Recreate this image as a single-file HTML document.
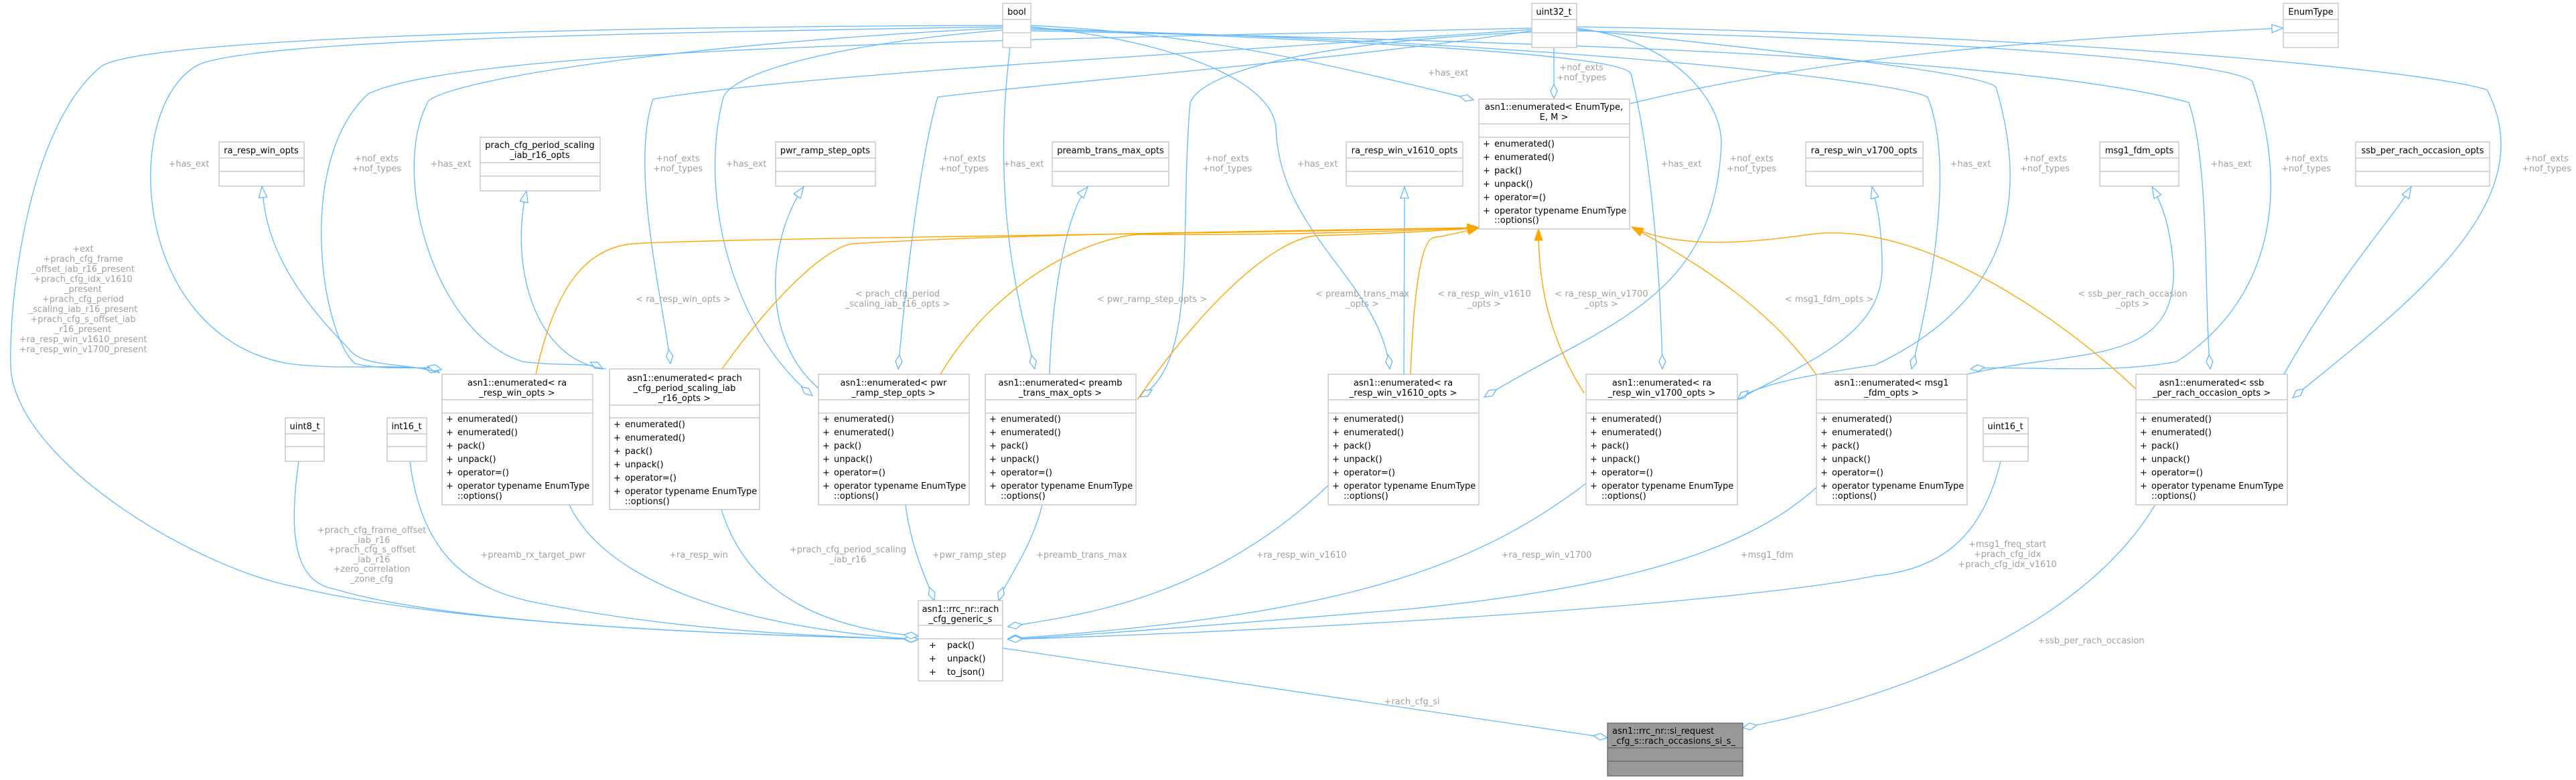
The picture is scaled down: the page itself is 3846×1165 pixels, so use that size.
<!DOCTYPE html>
<html><head><meta charset="utf-8"><style>
html,body{margin:0;padding:0;background:#fff;}
svg{display:block;}
text{font-family:"DejaVu Sans","Liberation Sans",sans-serif;font-size:13px;fill:#000;}
.l text{fill:#a0a0a0;font-size:13px;}
.b{fill:none;stroke:#63b8ff;stroke-width:1.3;}
.o{fill:none;stroke:#ffa500;stroke-width:1.4;}
.bx{fill:#fff;stroke:#bfbfbf;stroke-width:1.3;}
.sp{stroke:#bfbfbf;stroke-width:1.3;}
</style></head><body>
<svg width="3846" height="1165" viewBox="0 0 3846 1165" xmlns="http://www.w3.org/2000/svg">
<defs>
<marker id="dia" markerUnits="userSpaceOnUse" markerWidth="24" markerHeight="12" refX="22" refY="6" orient="auto"><path d="M1,6 L11,1 L22,6 L11,11 Z" fill="#fff" stroke="#63b8ff" stroke-width="1.3"/></marker>
<marker id="tri" markerUnits="userSpaceOnUse" markerWidth="20" markerHeight="14" refX="18" refY="7" orient="auto"><path d="M1,1 L18,7 L1,13 Z" fill="#fff" stroke="#63b8ff" stroke-width="1.3"/></marker>
<marker id="arr" markerUnits="userSpaceOnUse" markerWidth="20" markerHeight="14" refX="18" refY="7" orient="auto"><path d="M1,1 L18,7 L1,13 Z" fill="#ffa500" stroke="#ffa500" stroke-width="1"/></marker>
</defs>

<g class="b" marker-end="url(#dia)">
<path d="M1497,40 C900,50 400,60 300,95 C180,150 190,500 430,543 C520,555 600,540 655,555"/>
<path d="M2287,42 C1500,60 700,70 550,140 C440,240 480,500 530,543 C580,555 630,545 659,552"/>
<path d="M1497,42 C1100,60 700,110 640,150 C580,260 650,500 780,540 C840,548 880,540 900,551"/>
<path d="M2287,44 C1800,80 1200,110 975,148 C940,250 990,450 1001,543"/>
<path d="M1497,45 C1300,60 1100,100 1080,145 C1040,300 1100,500 1213,591"/>
<path d="M2287,46 C2000,90 1600,120 1400,145 C1370,250 1350,450 1341,551"/>
<path d="M1508,71 C1480,300 1520,450 1545,551"/>
<path d="M2287,48 C2000,60 1800,100 1777,153 C1760,350 1790,540 1702,593"/>
<path d="M1539,38 C1800,50 2000,100 2200,149"/>
<path d="M2320,71 L2320,147"/>
<path d="M1539,40 C1750,60 1900,120 1905,191 C1910,350 2060,420 2075,551"/>
<path d="M2354,42 C2500,60 2570,150 2570,214 C2560,450 2400,480 2216,593"/>
<path d="M1539,42 C2000,60 2420,80 2435,110 C2470,250 2480,450 2482,551"/>
<path d="M2354,44 C2700,80 2960,110 2980,130 C3030,300 3000,450 2800,545 C2700,560 2620,575 2594,597"/>
<path d="M1539,44 C2300,60 2830,120 2878,145 C2920,250 2880,450 2854,551"/>
<path d="M2354,46 C2900,60 3330,90 3363,122 C3420,290 3390,450 3250,540 C3150,560 3000,545 2942,551"/>
<path d="M1539,46 C2200,60 3000,80 3268,153 C3300,250 3290,450 3300,551"/>
<path d="M2354,40 C3000,50 3600,100 3713,134 C3800,300 3600,450 3423,594"/>
<path d="M1497,38 C800,40 200,60 150,100 C30,200 10,500 17,560 C40,700 300,850 439,876 C700,940 1200,950 1371,955"/>
<path d="M446,689 C430,800 440,870 500,880 C700,940 1200,950 1371,955"/>
<path d="M612,689 C630,830 700,880 800,900 C1000,940 1200,950 1371,955"/>
<path d="M850,754 C920,900 1200,945 1371,955"/>
<path d="M1077,761 C1120,900 1250,940 1371,950"/>
<path d="M1352,754 C1360,820 1385,870 1395,897"/>
<path d="M1556,754 C1540,820 1500,870 1491,897"/>
<path d="M1983,725 C1800,900 1600,920 1505,936"/>
<path d="M2368,722 C2200,850 2000,920 1505,954"/>
<path d="M2712,728 C2600,830 2400,880 2100,910 C1800,935 1600,950 1505,955"/>
<path d="M2987,689 C2960,800 2900,850 2800,860 C2600,900 2000,940 1505,955"/>
<path d="M1497,968 L2400,1102"/>
<path d="M3217,755 C3100,950 2800,1050 2602,1087"/>
</g>
<g class="b" marker-end="url(#tri)">
<path d="M657,557 C600,540 540,550 520,520 C400,400 395,320 391,278"/>
<path d="M905,551 C800,540 760,400 786,285"/>
<path d="M1222,580 C1130,500 1150,350 1200,279"/>
<path d="M1567,559 C1570,450 1590,320 1624,279"/>
<path d="M2096,559 L2097,279"/>
<path d="M2594,597 C2700,540 2810,500 2810,400 C2810,330 2800,300 2795,279"/>
<path d="M2937,559 C3100,520 3250,550 3245,400 C3240,330 3225,300 3213,279"/>
<path d="M3410,559 C3500,400 3570,330 3600,279"/>
<path d="M2433,155 C2700,90 3000,60 3409,42"/>
</g>
<g class="o" marker-end="url(#arr)">
<path d="M800,559 C830,420 880,370 945,364 C1100,355 1800,350 2208,340"/>
<path d="M1078,551 C1150,450 1230,370 1273,364 C1500,350 1900,345 2208,340"/>
<path d="M1404,559 C1500,400 1650,350 1706,350 C1900,352 2100,345 2208,340"/>
<path d="M1698,597 C1800,450 1900,360 1963,352 C2050,350 2150,345 2208,340"/>
<path d="M2106,559 C2110,450 2120,360 2140,355 C2170,350 2190,345 2208,340"/>
<path d="M2365,587 C2310,500 2297,420 2297,342"/>
<path d="M2712,560 C2650,470 2550,400 2436,339"/>
<path d="M3189,581 C3050,450 2850,330 2703,350 C2600,365 2500,370 2436,339"/>
</g>

<g class="l" text-anchor="middle">
<text x="282" y="249">+has_ext</text>
<text x="562" y="241">+nof_exts</text><text x="562" y="256">+nof_types</text>
<text x="673" y="249">+has_ext</text>
<text x="1012" y="241">+nof_exts</text><text x="1012" y="256">+nof_types</text>
<text x="1114" y="249">+has_ext</text>
<text x="1439" y="241">+nof_exts</text><text x="1439" y="256">+nof_types</text>
<text x="1528" y="249">+has_ext</text>
<text x="1832" y="241">+nof_exts</text><text x="1832" y="256">+nof_types</text>
<text x="1967" y="249">+has_ext</text>
<text x="2162" y="113">+has_ext</text>
<text x="2361" y="105">+nof_exts</text><text x="2361" y="120">+nof_types</text>
<text x="2510" y="249">+has_ext</text>
<text x="2615" y="241">+nof_exts</text><text x="2615" y="256">+nof_types</text>
<text x="2942" y="249">+has_ext</text>
<text x="3053" y="241">+nof_exts</text><text x="3053" y="256">+nof_types</text>
<text x="3331" y="249">+has_ext</text>
<text x="3443" y="241">+nof_exts</text><text x="3443" y="256">+nof_types</text>
<text x="3802" y="241">+nof_exts</text><text x="3802" y="256">+nof_types</text>

<text x="1020" y="451">&lt; ra_resp_win_opts &gt;</text>
<text x="1340" y="443">&lt; prach_cfg_period</text><text x="1340" y="458">_scaling_iab_r16_opts &gt;</text>
<text x="1720" y="451">&lt; pwr_ramp_step_opts &gt;</text>
<text x="2034" y="443">&lt; preamb_trans_max</text><text x="2034" y="458">_opts &gt;</text>
<text x="2216" y="443">&lt; ra_resp_win_v1610</text><text x="2216" y="458">_opts &gt;</text>
<text x="2391" y="443">&lt; ra_resp_win_v1700</text><text x="2391" y="458">_opts &gt;</text>
<text x="2731" y="451">&lt; msg1_fdm_opts &gt;</text>
<text x="3184" y="443">&lt; ssb_per_rach_occasion</text><text x="3184" y="458">_opts &gt;</text>

<text x="124" y="376">+ext</text>
<text x="124" y="391">+prach_cfg_frame</text>
<text x="124" y="406">_offset_iab_r16_present</text>
<text x="124" y="421">+prach_cfg_idx_v1610</text>
<text x="124" y="436">_present</text>
<text x="124" y="451">+prach_cfg_period</text>
<text x="124" y="466">_scaling_iab_r16_present</text>
<text x="124" y="481">+prach_cfg_s_offset_iab</text>
<text x="124" y="496">_r16_present</text>
<text x="124" y="511">+ra_resp_win_v1610_present</text>
<text x="124" y="526">+ra_resp_win_v1700_present</text>

<text x="555" y="796">+prach_cfg_frame_offset</text>
<text x="555" y="811">_iab_r16</text>
<text x="555" y="825">+prach_cfg_s_offset</text>
<text x="555" y="840">_iab_r16</text>
<text x="555" y="854">+zero_correlation</text>
<text x="555" y="869">_zone_cfg</text>
<text x="796" y="833">+preamb_rx_target_pwr</text>
<text x="1043" y="833">+ra_resp_win</text>
<text x="1266" y="825">+prach_cfg_period_scaling</text><text x="1266" y="840">_iab_r16</text>
<text x="1447" y="833">+pwr_ramp_step</text>
<text x="1615" y="833">+preamb_trans_max</text>
<text x="1943" y="833">+ra_resp_win_v1610</text>
<text x="2309" y="833">+ra_resp_win_v1700</text>
<text x="2638" y="833">+msg1_fdm</text>
<text x="2997" y="817">+msg1_freq_start</text>
<text x="2997" y="832">+prach_cfg_idx</text>
<text x="2997" y="847">+prach_cfg_idx_v1610</text>
<text x="3122" y="961">+ssb_per_rach_occasion</text>
<text x="2108" y="1052">+rach_cfg_si</text>
</g>

<g>
<rect class="bx" x="1497" y="5" width="42" height="66"/><line class="sp" x1="1497" y1="29" x2="1539" y2="29"/><line class="sp" x1="1497" y1="49" x2="1539" y2="49"/><text x="1518" y="22" text-anchor="middle">bool</text>
<rect class="bx" x="2287" y="5" width="67" height="66"/><line class="sp" x1="2287" y1="29" x2="2354" y2="29"/><line class="sp" x1="2287" y1="49" x2="2354" y2="49"/><text x="2320" y="22" text-anchor="middle">uint32_t</text>
<rect class="bx" x="3409" y="5" width="82" height="66"/><line class="sp" x1="3409" y1="29" x2="3491" y2="29"/><line class="sp" x1="3409" y1="49" x2="3491" y2="49"/><text x="3450" y="22" text-anchor="middle">EnumType</text>

<rect class="bx" x="426" y="624" width="58" height="65"/><line class="sp" x1="426" y1="648" x2="484" y2="648"/><line class="sp" x1="426" y1="667" x2="484" y2="667"/><text x="455" y="641" text-anchor="middle">uint8_t</text>
<rect class="bx" x="578" y="624" width="59" height="65"/><line class="sp" x1="578" y1="648" x2="637" y2="648"/><line class="sp" x1="578" y1="667" x2="637" y2="667"/><text x="607" y="641" text-anchor="middle">int16_t</text>
<rect class="bx" x="2961" y="624" width="67" height="65"/><line class="sp" x1="2961" y1="648" x2="3028" y2="648"/><line class="sp" x1="2961" y1="667" x2="3028" y2="667"/><text x="2994" y="641" text-anchor="middle">uint16_t</text>

<rect class="bx" x="327" y="212" width="127" height="66"/><line class="sp" x1="327" y1="236" x2="454" y2="236"/><line class="sp" x1="327" y1="256" x2="454" y2="256"/><text x="390" y="229" text-anchor="middle">ra_resp_win_opts</text>
<rect class="bx" x="717" y="205" width="179" height="80"/><line class="sp" x1="717" y1="243" x2="896" y2="243"/><line class="sp" x1="717" y1="263" x2="896" y2="263"/><text x="806" y="221" text-anchor="middle">prach_cfg_period_scaling</text><text x="806" y="236" text-anchor="middle">_iab_r16_opts</text>
<rect class="bx" x="1158" y="212" width="149" height="66"/><line class="sp" x1="1158" y1="236" x2="1307" y2="236"/><line class="sp" x1="1158" y1="256" x2="1307" y2="256"/><text x="1232" y="229" text-anchor="middle">pwr_ramp_step_opts</text>
<rect class="bx" x="1571" y="212" width="174" height="66"/><line class="sp" x1="1571" y1="236" x2="1745" y2="236"/><line class="sp" x1="1571" y1="256" x2="1745" y2="256"/><text x="1658" y="229" text-anchor="middle">preamb_trans_max_opts</text>
<rect class="bx" x="2010" y="212" width="174" height="66"/><line class="sp" x1="2010" y1="236" x2="2184" y2="236"/><line class="sp" x1="2010" y1="256" x2="2184" y2="256"/><text x="2097" y="229" text-anchor="middle">ra_resp_win_v1610_opts</text>
<rect class="bx" x="2696" y="212" width="175" height="66"/><line class="sp" x1="2696" y1="236" x2="2871" y2="236"/><line class="sp" x1="2696" y1="256" x2="2871" y2="256"/><text x="2783" y="229" text-anchor="middle">ra_resp_win_v1700_opts</text>
<rect class="bx" x="3135" y="212" width="118" height="66"/><line class="sp" x1="3135" y1="236" x2="3253" y2="236"/><line class="sp" x1="3135" y1="256" x2="3253" y2="256"/><text x="3194" y="229" text-anchor="middle">msg1_fdm_opts</text>
<rect class="bx" x="3517" y="212" width="200" height="66"/><line class="sp" x1="3517" y1="236" x2="3717" y2="236"/><line class="sp" x1="3517" y1="256" x2="3717" y2="256"/><text x="3617" y="229" text-anchor="middle">ssb_per_rach_occasion_opts</text>

<rect class="bx" x="2208" y="148" width="225" height="194"/><line class="sp" x1="2208" y1="185" x2="2433" y2="185"/><line class="sp" x1="2208" y1="205" x2="2433" y2="205"/>
<text x="2320" y="164" text-anchor="middle">asn1::enumerated&lt; EnumType,</text><text x="2320" y="179" text-anchor="middle">E, M &gt;</text>
<g><text x="2214" y="219">+</text><text x="2231" y="219">enumerated()</text>
<text x="2214" y="239">+</text><text x="2231" y="239">enumerated()</text>
<text x="2214" y="259">+</text><text x="2231" y="259">pack()</text>
<text x="2214" y="279">+</text><text x="2231" y="279">unpack()</text>
<text x="2214" y="299">+</text><text x="2231" y="299">operator=()</text>
<text x="2214" y="319">+</text><text x="2231" y="319">operator typename EnumType</text>
<text x="2231" y="333">::options()</text></g>
</g>

<g>
<rect class="bx" x="660" y="559" width="225" height="195"/><line class="sp" x1="660" y1="597" x2="885" y2="597"/><line class="sp" x1="660" y1="617" x2="885" y2="617"/>
<text x="772" y="576" text-anchor="middle">asn1::enumerated&lt; ra</text><text x="772" y="591" text-anchor="middle">_resp_win_opts &gt;</text>
<text x="666" y="630">+</text><text x="683" y="630">enumerated()</text><text x="666" y="650">+</text><text x="683" y="650">enumerated()</text><text x="666" y="670">+</text><text x="683" y="670">pack()</text><text x="666" y="690">+</text><text x="683" y="690">unpack()</text><text x="666" y="710">+</text><text x="683" y="710">operator=()</text><text x="666" y="730">+</text><text x="683" y="730">operator typename EnumType</text><text x="683" y="745">::options()</text>

<rect class="bx" x="910" y="551" width="224" height="210"/><line class="sp" x1="910" y1="605" x2="1134" y2="605"/><line class="sp" x1="910" y1="624" x2="1134" y2="624"/>
<text x="1022" y="569" text-anchor="middle">asn1::enumerated&lt; prach</text><text x="1022" y="584" text-anchor="middle">_cfg_period_scaling_iab</text><text x="1022" y="599" text-anchor="middle">_r16_opts &gt;</text>
<text x="916" y="638">+</text><text x="933" y="638">enumerated()</text><text x="916" y="658">+</text><text x="933" y="658">enumerated()</text><text x="916" y="678">+</text><text x="933" y="678">pack()</text><text x="916" y="698">+</text><text x="933" y="698">unpack()</text><text x="916" y="718">+</text><text x="933" y="718">operator=()</text><text x="916" y="738">+</text><text x="933" y="738">operator typename EnumType</text><text x="933" y="753">::options()</text>

<rect class="bx" x="1222" y="559" width="225" height="195"/><line class="sp" x1="1222" y1="597" x2="1447" y2="597"/><line class="sp" x1="1222" y1="617" x2="1447" y2="617"/>
<text x="1334" y="576" text-anchor="middle">asn1::enumerated&lt; pwr</text><text x="1334" y="591" text-anchor="middle">_ramp_step_opts &gt;</text>
<text x="1228" y="630">+</text><text x="1245" y="630">enumerated()</text><text x="1228" y="650">+</text><text x="1245" y="650">enumerated()</text><text x="1228" y="670">+</text><text x="1245" y="670">pack()</text><text x="1228" y="690">+</text><text x="1245" y="690">unpack()</text><text x="1228" y="710">+</text><text x="1245" y="710">operator=()</text><text x="1228" y="730">+</text><text x="1245" y="730">operator typename EnumType</text><text x="1245" y="745">::options()</text>

<rect class="bx" x="1471" y="559" width="225" height="195"/><line class="sp" x1="1471" y1="597" x2="1696" y2="597"/><line class="sp" x1="1471" y1="617" x2="1696" y2="617"/>
<text x="1583" y="576" text-anchor="middle">asn1::enumerated&lt; preamb</text><text x="1583" y="591" text-anchor="middle">_trans_max_opts &gt;</text>
<text x="1477" y="630">+</text><text x="1494" y="630">enumerated()</text><text x="1477" y="650">+</text><text x="1494" y="650">enumerated()</text><text x="1477" y="670">+</text><text x="1494" y="670">pack()</text><text x="1477" y="690">+</text><text x="1494" y="690">unpack()</text><text x="1477" y="710">+</text><text x="1494" y="710">operator=()</text><text x="1477" y="730">+</text><text x="1494" y="730">operator typename EnumType</text><text x="1494" y="745">::options()</text>

<rect class="bx" x="1983" y="559" width="225" height="195"/><line class="sp" x1="1983" y1="597" x2="2208" y2="597"/><line class="sp" x1="1983" y1="617" x2="2208" y2="617"/>
<text x="2095" y="576" text-anchor="middle">asn1::enumerated&lt; ra</text><text x="2095" y="591" text-anchor="middle">_resp_win_v1610_opts &gt;</text>
<text x="1989" y="630">+</text><text x="2006" y="630">enumerated()</text><text x="1989" y="650">+</text><text x="2006" y="650">enumerated()</text><text x="1989" y="670">+</text><text x="2006" y="670">pack()</text><text x="1989" y="690">+</text><text x="2006" y="690">unpack()</text><text x="1989" y="710">+</text><text x="2006" y="710">operator=()</text><text x="1989" y="730">+</text><text x="2006" y="730">operator typename EnumType</text><text x="2006" y="745">::options()</text>

<rect class="bx" x="2368" y="559" width="226" height="195"/><line class="sp" x1="2368" y1="597" x2="2594" y2="597"/><line class="sp" x1="2368" y1="617" x2="2594" y2="617"/>
<text x="2481" y="576" text-anchor="middle">asn1::enumerated&lt; ra</text><text x="2481" y="591" text-anchor="middle">_resp_win_v1700_opts &gt;</text>
<text x="2374" y="630">+</text><text x="2391" y="630">enumerated()</text><text x="2374" y="650">+</text><text x="2391" y="650">enumerated()</text><text x="2374" y="670">+</text><text x="2391" y="670">pack()</text><text x="2374" y="690">+</text><text x="2391" y="690">unpack()</text><text x="2374" y="710">+</text><text x="2391" y="710">operator=()</text><text x="2374" y="730">+</text><text x="2391" y="730">operator typename EnumType</text><text x="2391" y="745">::options()</text>

<rect class="bx" x="2712" y="559" width="225" height="195"/><line class="sp" x1="2712" y1="597" x2="2937" y2="597"/><line class="sp" x1="2712" y1="617" x2="2937" y2="617"/>
<text x="2824" y="576" text-anchor="middle">asn1::enumerated&lt; msg1</text><text x="2824" y="591" text-anchor="middle">_fdm_opts &gt;</text>
<text x="2718" y="630">+</text><text x="2735" y="630">enumerated()</text><text x="2718" y="650">+</text><text x="2735" y="650">enumerated()</text><text x="2718" y="670">+</text><text x="2735" y="670">pack()</text><text x="2718" y="690">+</text><text x="2735" y="690">unpack()</text><text x="2718" y="710">+</text><text x="2735" y="710">operator=()</text><text x="2718" y="730">+</text><text x="2735" y="730">operator typename EnumType</text><text x="2735" y="745">::options()</text>

<rect class="bx" x="3189" y="559" width="226" height="195"/><line class="sp" x1="3189" y1="597" x2="3415" y2="597"/><line class="sp" x1="3189" y1="617" x2="3415" y2="617"/>
<text x="3302" y="576" text-anchor="middle">asn1::enumerated&lt; ssb</text><text x="3302" y="591" text-anchor="middle">_per_rach_occasion_opts &gt;</text>
<text x="3195" y="630">+</text><text x="3212" y="630">enumerated()</text><text x="3195" y="650">+</text><text x="3212" y="650">enumerated()</text><text x="3195" y="670">+</text><text x="3212" y="670">pack()</text><text x="3195" y="690">+</text><text x="3212" y="690">unpack()</text><text x="3195" y="710">+</text><text x="3212" y="710">operator=()</text><text x="3195" y="730">+</text><text x="3212" y="730">operator typename EnumType</text><text x="3212" y="745">::options()</text>
</g>

<rect class="bx" x="1371" y="897" width="126" height="120"/><line class="sp" x1="1371" y1="934" x2="1497" y2="934"/><line class="sp" x1="1371" y1="954" x2="1497" y2="954"/>
<text x="1434" y="914" text-anchor="middle">asn1::rrc_nr::rach</text><text x="1434" y="929" text-anchor="middle">_cfg_generic_s</text>
<text x="1387" y="968">+</text><text x="1414" y="968">pack()</text>
<text x="1387" y="988">+</text><text x="1414" y="988">unpack()</text>
<text x="1387" y="1008">+</text><text x="1414" y="1008">to_json()</text>

<rect x="2400" y="1080" width="202" height="79" fill="#999" stroke="#666" stroke-width="1.3"/>
<line x1="2400" y1="1117" x2="2602" y2="1117" stroke="#666" stroke-width="1.3"/><line x1="2400" y1="1137" x2="2602" y2="1137" stroke="#666" stroke-width="1.3"/>
<text x="2407" y="1096">asn1::rrc_nr::si_request</text><text x="2407" y="1111">_cfg_s::rach_occasions_si_s_</text>
</svg>
</body></html>
